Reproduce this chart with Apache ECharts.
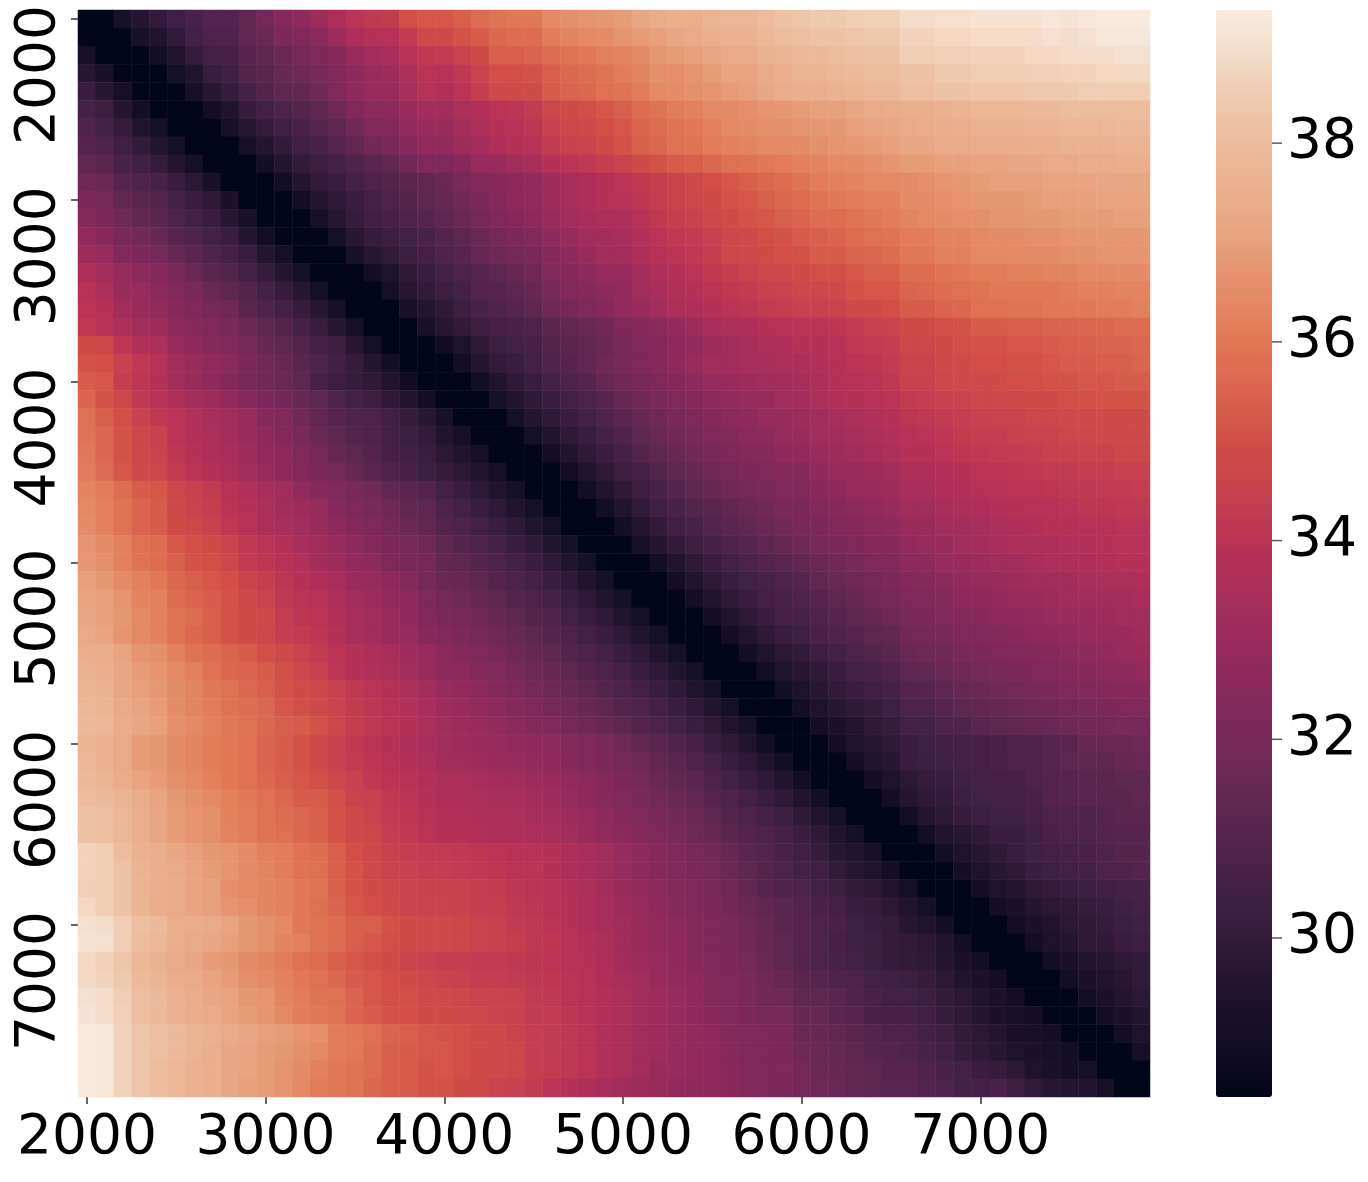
<!DOCTYPE html>
<html>
<head>
<meta charset="utf-8">
<title>Heatmap</title>
<script src="https://cdn.jsdelivr.net/npm/echarts@6/dist/echarts.min.js"></script>
<style>
  html, body { margin: 0; padding: 0; background: #fff; }
  /* the reference is a slightly soft upscaled image */
  #chart { width: 1368px; height: 1182px; filter: blur(0.6px); }
</style>
</head>
<body>
<div id="chart"></div>
<script>
// axis categories, one per cell (only every 10th one is labelled)
const labels = ['2000','2100','2200','2300','2400','2500','2600','2700','2800','2900',
  '3000','3100','3200','3300','3400','3500','3600','3700','3800','3900',
  '4000','4100','4200','4300','4400','4500','4600','4700','4800','4900',
  '5000','5100','5200','5300','5400','5500','5600','5700','5800','5900',
  '6000','6100','6200','6300','6400','6500','6600','6700','6800','6900',
  '7000','7100','7200','7300','7400','7500','7600','7700','7800','7900']
const barTicks = [30, 32, 34, 36, 38]
const barMin = 28.4
const barMax = 39.34
// rocket-like colours as they appear on the colour bar, evenly spaced from barMin to barMax
const barColors = ['#03051a','#211430','#45214a','#6c2858','#922a5c','#b63158','#d04e46','#e27a58','#e8a682','#eec3a5','#f8ece0']

// values, top row first, 20 columns per line
const rows = [
[28.4,28.4,29.2,29.6,30.0,30.4,30.7,31.0,31.0,31.4,31.9,32.4,32.7,33.1,33.6,34.0,34.2,34.3,35.0,35.2,
 35.2,35.4,35.7,35.9,36.0,36.0,36.4,36.6,36.7,36.8,36.9,37.2,37.4,37.5,37.5,37.7,37.8,37.8,38.0,38.2,
 38.3,38.4,38.4,38.5,38.6,38.6,38.9,38.9,39.0,39.0,39.1,39.1,39.1,39.1,39.2,39.1,39.2,39.3,39.3,39.3],
[28.4,28.4,28.4,29.2,29.5,30.0,30.5,30.8,30.9,31.4,31.6,32.1,32.3,32.6,33.1,33.6,33.8,33.9,34.3,34.8,
 34.8,35.1,35.3,35.6,35.7,35.7,36.1,36.3,36.4,36.5,36.7,36.9,37.0,37.2,37.3,37.5,37.6,37.6,37.8,38.0,
 38.1,38.2,38.2,38.3,38.4,38.4,38.7,38.7,38.8,38.8,38.9,38.9,38.9,38.9,39.0,38.9,39.0,39.2,39.2,39.2],
[29.1,28.4,28.4,28.4,29.0,29.5,30.1,30.5,30.6,31.1,31.3,31.6,31.9,32.2,32.5,33.0,33.3,33.4,33.9,34.2,
 34.3,34.6,34.9,35.4,35.4,35.5,35.7,35.9,36.0,36.2,36.3,36.5,36.8,36.9,37.0,37.2,37.3,37.3,37.6,37.7,
 37.9,37.9,38.0,38.1,38.2,38.2,38.5,38.5,38.6,38.6,38.7,38.7,38.7,38.8,38.8,38.9,38.9,38.9,39.0,39.0],
[29.7,29.2,28.4,28.4,28.4,29.1,29.5,30.2,30.4,31.0,31.2,31.5,31.7,32.0,32.3,32.7,33.0,33.1,33.5,34.0,
 33.9,34.2,34.6,35.0,35.0,35.1,35.4,35.6,35.7,35.9,36.1,36.3,36.6,36.6,36.7,36.9,37.1,37.1,37.3,37.5,
 37.7,37.7,37.8,37.9,38.0,38.0,38.2,38.2,38.4,38.4,38.5,38.5,38.5,38.6,38.6,38.7,38.7,38.8,38.8,38.8],
[30.2,29.7,29.1,28.4,28.4,28.4,29.1,29.7,30.1,30.6,31.0,31.3,31.4,31.8,32.2,32.7,32.9,33.0,33.4,33.9,
 33.7,34.0,34.4,34.8,34.9,34.9,35.3,35.5,35.6,35.8,35.9,36.1,36.4,36.5,36.6,36.7,36.9,37.0,37.2,37.4,
 37.5,37.5,37.6,37.7,37.8,37.8,38.1,38.1,38.2,38.2,38.3,38.3,38.3,38.4,38.4,38.4,38.5,38.5,38.5,38.5],
[30.6,30.3,29.6,29.0,28.4,28.4,28.4,29.0,29.5,30.1,30.5,30.8,31.0,31.3,31.7,32.2,32.6,32.6,33.0,33.2,
 33.3,33.5,33.7,34.0,34.1,34.3,34.7,34.9,35.0,35.2,35.4,35.7,35.9,36.1,36.2,36.4,36.5,36.6,36.7,36.8,
 36.9,37.0,37.0,37.2,37.3,37.4,37.5,37.5,37.6,37.7,37.8,37.8,37.8,37.9,37.9,38.0,38.0,38.0,38.0,38.0],
[30.9,30.5,30.1,29.5,29.1,28.4,28.4,28.4,29.1,29.7,30.1,30.4,30.7,31.1,31.3,31.8,32.2,32.3,32.8,33.0,
 33.0,33.3,33.5,33.8,33.9,34.1,34.5,34.7,34.8,35.0,35.2,35.5,35.7,35.9,36.0,36.2,36.4,36.5,36.6,36.6,
 36.7,36.8,36.8,37.0,37.1,37.2,37.3,37.4,37.4,37.5,37.6,37.6,37.6,37.7,37.7,37.8,37.8,37.8,37.9,37.9],
[31.1,30.9,30.4,30.0,29.6,29.1,28.4,28.4,28.4,29.1,29.6,30.0,30.4,30.7,31.1,31.4,31.8,32.0,32.4,32.8,
 32.8,33.1,33.3,33.6,33.8,33.9,34.3,34.5,34.6,34.9,35.1,35.4,35.6,35.8,35.9,36.1,36.2,36.3,36.4,36.5,
 36.5,36.6,36.7,36.8,36.9,37.0,37.2,37.2,37.3,37.3,37.4,37.4,37.4,37.5,37.5,37.6,37.6,37.6,37.7,37.7],
[31.4,31.2,30.7,30.4,30.1,29.6,29.1,28.4,28.4,28.4,29.0,29.6,30.0,30.3,30.6,30.9,31.2,31.4,31.8,32.2,
 32.2,32.5,32.9,33.0,33.2,33.4,33.8,34.0,34.2,34.4,34.6,34.9,35.1,35.3,35.4,35.6,35.8,35.9,36.0,36.1,
 36.2,36.3,36.4,36.5,36.6,36.7,36.9,36.9,37.0,37.0,37.1,37.1,37.2,37.2,37.3,37.3,37.4,37.4,37.5,37.5],
[31.7,31.6,31.1,30.9,30.7,30.2,29.8,29.2,28.4,28.4,28.4,29.0,29.6,30.0,30.2,30.6,30.8,31.0,31.2,31.4,
 31.6,32.0,32.3,32.5,32.6,32.8,33.1,33.4,33.6,33.8,34.0,34.2,34.4,34.6,34.8,35.0,35.2,35.4,35.6,35.7,
 35.9,36.1,36.2,36.3,36.4,36.4,36.5,36.6,36.7,36.8,36.9,37.0,37.0,37.0,37.1,37.1,37.1,37.2,37.2,37.2],
[32.1,31.9,31.4,31.2,31.0,30.5,30.2,29.9,29.3,28.4,28.4,28.4,29.0,29.6,29.9,30.2,30.5,30.8,31.0,31.3,
 31.5,31.8,32.1,32.4,32.6,32.8,33.1,33.4,33.6,33.8,33.9,34.1,34.4,34.6,34.7,34.9,35.1,35.2,35.4,35.6,
 35.7,35.9,36.0,36.1,36.2,36.2,36.5,36.5,36.6,36.7,36.8,36.8,36.8,36.9,37.0,37.0,37.0,37.1,37.1,37.1],
[32.4,32.1,31.7,31.4,31.2,30.8,30.5,30.2,29.7,29.2,28.4,28.4,28.4,29.1,29.7,30.1,30.4,30.6,30.8,31.1,
 31.3,31.6,31.9,32.2,32.4,32.6,33.0,33.2,33.4,33.5,33.6,33.9,34.2,34.4,34.5,34.7,34.9,35.1,35.2,35.4,
 35.5,35.7,35.7,35.9,36.0,36.1,36.3,36.4,36.5,36.6,36.6,36.7,36.7,36.8,36.8,36.9,36.9,36.9,37.0,37.0],
[32.8,32.5,32.0,31.8,31.5,31.1,30.9,30.5,30.2,29.6,29.0,28.4,28.4,28.4,29.1,29.7,30.1,30.3,30.5,30.7,
 31.0,31.3,31.6,31.9,32.1,32.3,32.7,33.0,33.2,33.3,33.4,33.7,34.0,34.2,34.3,34.5,34.7,34.8,35.0,35.1,
 35.3,35.4,35.5,35.7,35.8,35.9,36.1,36.1,36.3,36.3,36.4,36.5,36.5,36.6,36.6,36.7,36.7,36.8,36.8,36.8],
[33.1,32.9,32.3,32.1,31.9,31.5,31.2,30.9,30.6,30.2,29.6,29.1,28.4,28.4,28.4,29.2,29.7,30.0,30.3,30.6,
 30.9,31.1,31.5,31.7,31.9,32.1,32.5,32.7,33.0,33.2,33.3,33.6,33.9,34.0,34.2,34.4,34.7,34.8,34.9,35.0,
 35.1,35.3,35.3,35.5,35.6,35.7,36.0,36.0,36.2,36.2,36.4,36.4,36.4,36.5,36.5,36.6,36.6,36.7,36.7,36.7],
[33.6,33.3,32.9,32.6,32.4,32.0,31.6,31.2,31.0,30.5,30.1,29.6,29.1,28.4,28.4,28.4,29.0,29.4,29.9,30.2,
 30.5,30.8,31.1,31.3,31.5,31.8,32.2,32.5,32.7,32.9,33.0,33.3,33.6,33.8,34.0,34.2,34.4,34.6,34.7,34.8,
 34.9,35.0,35.0,35.2,35.4,35.4,35.7,35.7,35.9,36.0,36.1,36.1,36.2,36.2,36.3,36.3,36.4,36.4,36.5,36.5],
[33.9,33.5,33.0,32.9,32.6,32.3,32.0,31.6,31.3,31.0,30.6,30.1,29.7,29.1,28.4,28.4,28.4,29.1,29.7,30.0,
 30.3,30.6,31.0,31.1,31.3,31.5,32.0,32.3,32.5,32.7,32.8,33.2,33.4,33.7,33.8,34.0,34.2,34.3,34.5,34.6,
 34.7,34.7,34.8,35.1,35.2,35.2,35.5,35.6,35.7,35.8,35.9,36.0,36.0,36.0,36.0,36.1,36.2,36.2,36.3,36.3],
[34.0,33.8,33.2,33.0,32.8,32.5,32.2,31.9,31.7,31.2,30.9,30.5,30.1,29.7,29.1,28.4,28.4,28.4,29.2,29.6,
 29.9,30.3,30.7,30.9,31.1,31.3,31.7,31.9,32.2,32.5,32.8,33.0,33.2,33.5,33.6,33.8,34.0,34.1,34.3,34.4,
 34.5,34.5,34.6,34.8,34.9,35.0,35.3,35.3,35.5,35.6,35.8,35.8,35.9,35.9,36.0,36.0,36.0,36.1,36.1,36.2],
[34.2,33.9,33.5,33.2,33.1,32.7,32.5,32.3,32.0,31.6,31.3,31.0,30.6,30.2,29.7,29.1,28.4,28.4,28.4,29.2,
 29.7,30.0,30.3,30.6,30.7,30.8,31.2,31.4,31.6,31.8,32.2,32.5,32.6,32.8,33.1,33.4,33.5,33.6,33.8,33.9,
 34.0,34.0,34.1,34.3,34.5,34.6,34.9,34.9,35.0,35.1,35.3,35.3,35.4,35.4,35.5,35.5,35.6,35.6,35.7,35.7],
[34.9,34.7,34.1,33.7,33.5,32.9,32.7,32.5,32.3,31.9,31.5,31.3,31.0,30.6,30.3,29.7,29.1,28.4,28.4,28.4,
 28.9,29.4,29.9,30.3,30.5,30.6,31.0,31.2,31.4,31.6,32.0,32.2,32.4,32.6,32.8,33.1,33.3,33.4,33.5,33.6,
 33.8,33.8,33.9,34.2,34.3,34.4,34.7,34.7,34.9,35.0,35.1,35.1,35.2,35.2,35.3,35.4,35.4,35.5,35.5,35.6],
[35.1,35.0,34.5,34.2,33.9,33.2,33.0,32.8,32.6,32.1,31.8,31.5,31.2,30.9,30.4,30.1,29.6,29.0,28.4,28.4,
 28.4,29.0,29.6,30.0,30.2,30.5,30.9,31.1,31.4,31.7,32.0,32.2,32.4,32.7,33.0,33.2,33.3,33.4,33.4,33.5,
 33.6,33.7,33.8,34.0,34.1,34.3,34.6,34.6,34.8,34.9,35.0,35.0,35.1,35.1,35.2,35.3,35.3,35.4,35.4,35.5],
[35.3,35.2,34.4,34.1,33.8,33.3,33.0,32.7,32.4,32.0,31.8,31.6,31.3,30.7,30.3,30.1,29.9,29.5,28.9,28.4,
 28.4,28.4,29.0,29.5,29.9,30.2,30.5,30.8,31.1,31.5,31.8,32.0,32.2,32.4,32.7,32.9,33.0,33.1,33.2,33.3,
 33.4,33.6,33.8,33.9,34.0,34.2,34.5,34.5,34.7,34.8,34.8,34.9,35.0,35.0,35.1,35.1,35.2,35.2,35.3,35.3],
[35.5,35.1,34.7,34.2,33.9,33.6,33.2,33.1,32.8,32.4,32.1,31.8,31.5,31.3,30.9,30.5,30.3,29.9,29.5,29.0,
 28.4,28.4,28.4,29.1,29.5,29.9,30.2,30.5,30.8,31.1,31.5,31.8,32.0,32.2,32.4,32.6,32.8,32.9,33.0,33.2,
 33.3,33.5,33.7,33.8,33.9,34.0,34.3,34.4,34.5,34.6,34.7,34.7,34.8,34.9,34.9,35.0,35.0,35.1,35.1,35.1],
[35.8,35.4,35.0,34.5,34.2,34.0,33.7,33.4,33.2,33.0,32.5,32.3,31.8,31.4,31.1,30.9,30.8,30.4,30.1,29.7,
 29.2,28.4,28.4,28.4,29.1,29.6,29.9,30.2,30.5,30.9,31.2,31.5,31.8,32.0,32.2,32.4,32.6,32.7,32.9,33.0,
 33.1,33.3,33.4,33.5,33.7,33.8,34.1,34.2,34.3,34.4,34.5,34.6,34.6,34.7,34.7,34.8,34.8,34.9,34.9,34.9],
[35.9,35.6,35.1,34.7,34.5,34.0,33.7,33.5,33.3,33.0,32.7,32.4,32.0,31.6,31.3,31.0,30.9,30.5,30.3,30.0,
 29.5,29.1,28.4,28.4,28.4,29.1,29.5,29.9,30.2,30.6,30.9,31.3,31.6,31.8,32.0,32.2,32.4,32.6,32.7,32.9,
 33.0,33.2,33.3,33.4,33.5,33.7,33.9,34.0,34.1,34.3,34.4,34.4,34.5,34.6,34.6,34.7,34.7,34.8,34.8,34.8],
[36.0,35.6,35.1,34.7,34.6,34.1,33.8,33.6,33.4,33.1,32.8,32.6,32.2,31.9,31.5,31.3,31.0,30.6,30.4,30.2,
 29.8,29.5,29.1,28.4,28.4,28.4,29.0,29.5,29.9,30.2,30.6,31.0,31.3,31.5,31.8,32.0,32.2,32.4,32.5,32.7,
 32.8,33.0,33.1,33.2,33.4,33.5,33.8,33.8,34.0,34.1,34.2,34.3,34.3,34.4,34.5,34.5,34.6,34.6,34.7,34.7],
[36.1,35.7,35.2,34.8,34.7,34.3,34.0,33.8,33.5,33.2,32.9,32.6,32.3,32.1,31.9,31.5,31.2,30.9,30.6,30.3,
 30.1,29.8,29.5,29.1,28.4,28.4,28.4,29.0,29.5,29.9,30.3,30.6,31.0,31.3,31.5,31.7,31.9,32.1,32.2,32.4,
 32.5,32.7,32.9,33.0,33.1,33.3,33.5,33.6,33.7,33.8,34.0,34.0,34.1,34.2,34.3,34.3,34.4,34.4,34.5,34.5],
[36.3,36.1,35.7,35.3,35.2,34.7,34.5,34.3,33.9,33.7,33.4,33.2,32.8,32.5,32.3,32.0,31.8,31.4,31.2,31.0,
 30.5,30.2,29.9,29.5,29.1,28.4,28.4,28.4,29.0,29.5,29.9,30.3,30.7,31.0,31.3,31.5,31.7,31.9,32.0,32.2,
 32.3,32.5,32.7,32.9,33.0,33.1,33.4,33.4,33.6,33.7,33.8,33.9,34.0,34.0,34.1,34.2,34.2,34.3,34.3,34.4],
[36.4,36.2,35.9,35.5,35.3,34.8,34.6,34.4,34.0,33.8,33.5,33.3,33.1,32.9,32.5,32.2,32.0,31.7,31.4,31.3,
 30.8,30.5,30.2,29.9,29.5,29.1,28.4,28.4,28.4,29.0,29.5,30.0,30.4,30.7,31.0,31.2,31.4,31.6,31.8,32.0,
 32.1,32.3,32.5,32.6,32.8,32.9,33.2,33.2,33.4,33.5,33.6,33.7,33.8,33.9,33.9,34.0,34.1,34.1,34.2,34.2],
[36.5,36.2,35.9,35.5,35.3,34.9,34.7,34.5,34.2,33.9,33.6,33.4,33.2,33.0,32.7,32.4,32.2,31.9,31.6,31.4,
 31.0,30.8,30.5,30.2,29.9,29.5,29.1,28.4,28.4,28.4,29.0,29.6,30.0,30.4,30.7,31.0,31.2,31.4,31.6,31.8,
 32.0,32.1,32.3,32.4,32.6,32.7,33.0,33.0,33.2,33.3,33.4,33.5,33.6,33.7,33.8,33.8,33.9,33.9,34.0,34.0],
[36.7,36.5,36.2,35.8,35.7,35.2,35.0,34.9,34.6,34.2,34.0,33.8,33.4,33.2,32.9,32.7,32.4,32.1,31.9,31.7,
 31.3,31.0,30.8,30.5,30.2,29.9,29.5,29.1,28.4,28.4,28.4,29.1,29.6,30.0,30.3,30.6,30.9,31.1,31.3,31.5,
 31.7,31.9,32.1,32.2,32.4,32.5,32.8,32.9,33.0,33.2,33.3,33.4,33.5,33.5,33.6,33.7,33.7,33.8,33.9,33.9],
[36.8,36.6,36.2,35.9,35.7,35.4,35.1,35.0,34.7,34.3,34.1,33.9,33.7,33.3,33.1,32.8,32.7,32.2,32.0,31.9,
 31.4,31.3,31.0,30.8,30.5,30.2,29.9,29.5,29.1,28.4,28.4,28.4,29.0,29.5,29.9,30.2,30.5,30.8,31.0,31.2,
 31.4,31.6,31.8,32.0,32.2,32.3,32.7,32.7,32.9,33.0,33.1,33.2,33.3,33.4,33.5,33.6,33.6,33.7,33.8,33.8],
[37.0,36.8,36.5,36.2,36.0,35.6,35.4,35.2,35.0,34.6,34.4,34.1,33.8,33.6,33.4,33.0,32.9,32.6,32.4,31.9,
 31.6,31.5,31.3,31.0,30.8,30.5,30.2,29.9,29.5,29.1,28.4,28.4,28.4,29.0,29.5,29.9,30.2,30.5,30.7,30.9,
 31.1,31.4,31.6,31.7,31.9,32.1,32.4,32.5,32.6,32.8,32.9,33.0,33.1,33.2,33.3,33.3,33.4,33.5,33.5,33.6],
[37.1,37.0,36.7,36.3,36.2,35.7,35.5,35.3,35.1,34.8,34.6,34.2,34.0,33.9,33.6,33.2,33.1,32.8,32.6,32.2,
 31.9,31.7,31.5,31.3,31.0,30.8,30.5,30.2,29.9,29.5,29.1,28.4,28.4,28.4,29.0,29.5,29.9,30.2,30.5,30.7,
 30.9,31.1,31.3,31.5,31.7,31.9,32.2,32.3,32.4,32.6,32.7,32.8,32.9,33.0,33.1,33.2,33.2,33.3,33.3,33.4],
[37.2,37.0,36.8,36.4,36.2,35.9,35.7,35.4,35.1,34.9,34.8,34.4,34.1,34.0,33.7,33.4,33.2,32.9,32.7,32.3,
 32.0,31.9,31.7,31.5,31.3,31.0,30.8,30.5,30.2,29.9,29.5,29.1,28.4,28.4,28.4,29.0,29.5,29.9,30.2,30.5,
 30.7,30.9,31.1,31.3,31.5,31.7,32.0,32.1,32.2,32.4,32.5,32.6,32.7,32.8,32.9,33.0,33.0,33.1,33.2,33.2],
[37.3,37.1,36.7,36.4,36.2,35.9,35.6,35.4,35.1,34.9,34.7,34.4,34.3,34.1,33.8,33.4,33.3,33.0,32.9,32.5,
 32.3,32.1,31.9,31.7,31.5,31.3,31.0,30.8,30.5,30.2,29.9,29.5,29.1,28.4,28.4,28.4,29.0,29.5,29.9,30.2,
 30.4,30.7,30.9,31.1,31.3,31.4,31.8,31.9,32.0,32.2,32.3,32.4,32.5,32.6,32.7,32.8,32.9,32.9,33.0,33.1],
[37.5,37.4,37.1,36.7,36.6,36.2,35.9,35.7,35.5,35.3,35.0,34.8,34.6,34.3,34.0,33.8,33.6,33.4,33.1,32.9,
 32.6,32.4,32.2,31.9,31.7,31.5,31.3,31.0,30.8,30.5,30.2,29.9,29.5,29.1,28.4,28.4,28.4,29.0,29.5,29.8,
 30.0,30.3,30.5,30.8,31.0,31.2,31.6,31.7,31.8,32.0,32.1,32.2,32.3,32.4,32.5,32.6,32.7,32.8,32.9,33.0],
[37.6,37.5,37.2,36.9,36.7,36.4,36.2,35.8,35.6,35.5,35.3,35.0,34.7,34.5,34.1,33.8,33.7,33.5,33.2,33.0,
 32.7,32.6,32.4,32.2,31.9,31.7,31.5,31.3,31.0,30.8,30.5,30.2,29.9,29.5,29.1,28.4,28.4,28.4,29.0,29.4,
 29.7,29.9,30.2,30.5,30.7,30.9,31.3,31.4,31.6,31.7,31.9,32.0,32.1,32.2,32.3,32.4,32.5,32.6,32.7,32.8],
[37.7,37.6,37.2,37.0,36.8,36.5,36.3,36.0,35.8,35.6,35.4,35.1,34.9,34.7,34.5,34.2,34.0,33.8,33.5,33.2,
 32.9,32.8,32.6,32.4,32.2,31.9,31.7,31.5,31.3,31.0,30.8,30.5,30.2,29.9,29.5,29.1,28.4,28.4,28.4,29.0,
 29.4,29.7,30.0,30.2,30.4,30.6,31.0,31.1,31.3,31.5,31.6,31.8,31.9,32.0,32.1,32.2,32.3,32.4,32.5,32.5],
[37.8,37.7,37.3,37.1,36.9,36.5,36.3,36.1,35.9,35.7,35.6,35.2,35.0,34.8,34.6,34.3,34.1,33.9,33.7,33.4,
 33.1,33.0,32.8,32.6,32.4,32.2,31.9,31.7,31.5,31.3,31.0,30.8,30.5,30.2,29.9,29.5,29.1,28.4,28.4,28.4,
 29.0,29.4,29.7,29.9,30.1,30.4,30.8,30.9,31.1,31.3,31.4,31.5,31.6,31.7,31.8,31.9,32.0,32.1,32.2,32.3],
[37.9,37.8,37.4,37.2,37.0,36.6,36.4,36.2,36.0,35.8,35.6,35.4,35.3,35.1,34.7,34.4,34.2,34.0,33.8,33.5,
 33.2,33.1,33.0,32.8,32.6,32.4,32.2,31.9,31.7,31.5,31.3,31.0,30.8,30.5,30.2,29.9,29.5,29.1,28.4,28.4,
 28.4,29.0,29.3,29.6,29.9,30.1,30.5,30.6,30.8,30.9,31.2,31.3,31.4,31.5,31.6,31.7,31.8,31.9,32.0,32.0],
[37.7,37.6,37.3,36.9,36.8,36.5,36.3,36.1,36.0,35.8,35.5,35.3,35.1,34.8,34.5,34.2,34.0,33.8,33.6,33.4,
 33.2,33.1,33.0,32.9,32.8,32.7,32.6,32.4,32.2,32.0,31.7,31.4,31.2,30.9,30.6,30.2,29.9,29.5,29.0,28.4,
 28.4,28.4,29.0,29.4,29.7,29.9,30.2,30.4,30.4,30.5,30.6,30.7,30.9,30.9,31.1,31.2,31.5,31.6,31.6,31.7],
[37.8,37.6,37.3,36.9,36.8,36.5,36.3,36.1,36.0,35.8,35.5,35.3,35.1,34.8,34.5,34.3,34.1,33.9,33.7,33.5,
 33.3,33.2,33.1,33.0,32.9,32.8,32.7,32.5,32.3,32.1,31.9,31.7,31.4,31.2,30.9,30.6,30.2,29.9,29.5,29.0,
 28.4,28.4,28.4,29.0,29.5,29.7,30.2,30.3,30.4,30.5,30.6,30.7,30.8,30.9,31.1,31.3,31.3,31.3,31.5,31.6],
[37.9,37.7,37.4,37.1,36.9,36.6,36.4,36.2,36.0,35.8,35.6,35.4,35.2,35.0,34.7,34.5,34.2,34.0,33.9,33.7,
 33.5,33.5,33.4,33.3,33.2,33.1,33.0,32.8,32.6,32.4,32.1,31.9,31.6,31.4,31.2,30.8,30.5,30.2,29.9,29.5,
 29.0,28.4,28.4,28.4,29.0,29.4,29.8,30.1,30.2,30.4,30.5,30.6,30.6,30.8,31.0,31.1,31.2,31.2,31.3,31.3],
[38.0,37.9,37.7,37.4,37.1,36.8,36.6,36.4,36.2,36.0,35.8,35.6,35.3,35.3,35.0,34.6,34.5,34.2,34.0,33.8,
 33.6,33.6,33.5,33.4,33.4,33.3,33.1,32.9,32.7,32.5,32.3,32.0,31.8,31.6,31.4,31.1,30.8,30.5,30.2,29.9,
 29.5,29.0,28.4,28.4,28.4,29.0,29.6,29.9,30.0,30.3,30.5,30.5,30.5,30.7,31.0,31.1,31.2,31.2,31.2,31.3],
[38.2,38.1,37.8,37.5,37.2,36.9,36.7,36.6,36.2,36.1,35.9,35.7,35.6,35.4,35.1,34.8,34.6,34.3,34.1,33.9,
 33.7,33.7,33.6,33.5,33.5,33.4,33.3,33.1,32.9,32.7,32.5,32.2,32.0,31.8,31.6,31.3,31.0,30.8,30.5,30.3,
 29.9,29.5,29.1,28.4,28.4,28.4,29.0,29.6,29.8,30.1,30.3,30.4,30.4,30.6,30.8,30.9,30.9,31.1,31.2,31.2],
[38.2,38.1,37.8,37.5,37.2,36.9,36.7,36.6,36.3,36.1,35.9,35.8,35.6,35.4,35.1,34.8,34.7,34.4,34.2,34.0,
 33.8,33.8,33.7,33.6,33.6,33.6,33.4,33.2,33.0,32.8,32.6,32.4,32.2,32.0,31.7,31.5,31.2,31.0,30.8,30.6,
 30.2,29.9,29.5,29.1,28.4,28.4,28.4,29.0,29.5,29.7,29.9,30.2,30.2,30.4,30.7,30.8,30.9,31.0,31.1,31.1],
[38.7,38.5,38.0,37.6,37.5,37.2,37.0,36.8,36.7,36.5,36.2,36.1,35.9,35.7,35.4,35.0,34.7,34.5,34.4,34.3,
 34.3,34.2,34.1,34.0,33.9,33.9,33.8,33.6,33.4,33.2,32.9,32.7,32.5,32.2,32.0,31.8,31.5,31.2,31.0,30.7,
 30.4,30.1,29.7,29.5,29.1,28.4,28.4,28.4,29.0,29.4,29.7,29.9,30.2,30.4,30.5,30.6,30.7,30.8,31.0,31.0],
[38.7,38.5,38.2,37.7,37.5,37.3,37.1,36.9,36.7,36.5,36.3,36.1,35.9,35.8,35.4,35.1,34.8,34.6,34.5,34.4,
 34.4,34.3,34.2,34.1,34.0,34.0,33.8,33.6,33.4,33.2,32.9,32.7,32.5,32.3,32.1,31.9,31.6,31.3,31.0,30.8,
 30.6,30.4,30.0,29.7,29.4,29.0,28.4,28.4,28.4,29.0,29.4,29.7,29.9,30.2,30.4,30.5,30.6,30.8,30.9,31.0],
[38.6,38.5,38.2,37.7,37.5,37.3,37.1,37.0,36.6,36.4,36.3,36.2,36.0,35.9,35.4,35.1,34.9,34.7,34.6,34.5,
 34.5,34.5,34.4,34.3,34.1,34.0,33.9,33.7,33.5,33.3,33.0,32.8,32.6,32.4,32.2,32.0,31.7,31.4,31.1,30.9,
 30.8,30.5,30.3,30.0,29.8,29.5,29.1,28.4,28.4,28.4,29.0,29.4,29.6,29.9,30.1,30.2,30.3,30.4,30.5,30.6],
[38.8,38.5,38.2,37.7,37.4,37.3,37.1,37.0,36.7,36.6,36.3,36.2,36.0,35.8,35.5,35.2,35.0,34.8,34.6,34.6,
 34.6,34.5,34.4,34.4,34.2,34.1,33.9,33.8,33.6,33.4,33.1,32.9,32.7,32.5,32.3,32.1,31.8,31.6,31.4,31.2,
 31.0,30.7,30.5,30.2,30.1,29.8,29.5,29.1,28.4,28.4,28.4,29.0,29.3,29.6,29.8,29.9,30.1,30.2,30.4,30.5],
[39.0,38.9,38.5,38.1,37.9,37.5,37.4,37.3,37.1,36.8,36.6,36.4,36.0,35.9,35.7,35.4,35.4,35.1,34.9,34.8,
 34.8,34.7,34.6,34.5,34.3,34.2,34.0,33.8,33.6,33.4,33.2,33.0,32.8,32.6,32.4,32.2,32.0,31.7,31.5,31.2,
 31.1,30.8,30.7,30.4,30.2,30.1,29.7,29.5,29.0,28.4,28.4,28.4,29.0,29.3,29.5,29.8,29.9,30.1,30.3,30.4],
[39.1,39.0,38.5,38.0,37.8,37.5,37.3,37.2,37.0,36.8,36.6,36.3,36.2,35.9,35.7,35.4,35.2,35.0,34.9,34.8,
 34.8,34.7,34.6,34.5,34.4,34.2,34.1,33.9,33.7,33.5,33.2,33.0,32.8,32.6,32.4,32.2,32.0,31.8,31.5,31.3,
 31.1,30.9,30.6,30.4,30.3,30.1,30.0,29.8,29.5,29.0,28.4,28.4,28.4,29.0,29.4,29.6,29.9,29.9,30.2,30.3],
[38.8,38.6,38.3,37.8,37.6,37.3,37.2,36.9,36.8,36.5,36.3,36.1,35.8,35.7,35.4,35.2,35.0,34.9,34.6,34.5,
 34.4,34.4,34.3,34.3,34.2,34.1,34.0,33.9,33.8,33.6,33.3,33.1,32.9,32.7,32.5,32.3,32.1,31.9,31.6,31.3,
 31.0,30.8,30.7,30.5,30.3,30.1,30.0,29.9,29.6,29.3,29.0,28.4,28.4,28.4,29.0,29.3,29.5,29.7,29.9,30.0],
[38.8,38.7,38.4,37.9,37.7,37.4,37.3,37.1,36.9,36.6,36.4,36.2,36.0,35.8,35.6,35.3,35.2,35.0,34.9,34.7,
 34.6,34.5,34.4,34.4,34.3,34.2,34.1,34.0,33.9,33.6,33.4,33.2,33.0,32.8,32.6,32.4,32.2,32.0,31.7,31.5,
 31.2,31.1,30.9,30.8,30.5,30.4,30.3,30.1,29.8,29.5,29.3,29.0,28.4,28.4,28.4,29.0,29.3,29.5,29.7,30.0],
[39.0,38.9,38.5,38.1,37.9,37.6,37.4,37.2,37.1,36.8,36.7,36.3,36.1,35.9,35.8,35.5,35.2,35.0,35.0,34.8,
 34.8,34.7,34.6,34.6,34.5,34.3,34.2,34.0,33.9,33.7,33.5,33.3,33.1,32.9,32.7,32.5,32.3,32.1,31.8,31.7,
 31.4,31.3,31.2,30.9,30.7,30.5,30.5,30.3,30.0,29.8,29.5,29.3,29.0,28.4,28.4,28.4,29.0,29.3,29.6,29.8],
[39.1,38.9,38.6,38.1,37.9,37.6,37.4,37.3,37.1,36.9,36.7,36.4,36.1,36.0,35.8,35.5,35.3,35.1,35.0,34.9,
 34.9,34.8,34.7,34.6,34.5,34.3,34.3,34.1,33.9,33.7,33.5,33.2,33.1,32.9,32.7,32.5,32.3,32.1,31.9,31.9,
 31.5,31.5,31.2,31.1,30.7,30.6,30.6,30.4,30.1,29.9,29.6,29.3,29.1,29.0,28.4,28.4,28.4,29.0,29.3,29.5],
[39.3,39.2,38.7,38.3,38.1,37.9,37.7,37.6,37.3,37.2,37.0,36.9,36.7,36.6,36.1,36.0,35.8,35.5,35.4,35.2,
 35.1,35.0,34.9,34.8,34.6,34.4,34.3,34.2,34.0,33.7,33.5,33.3,33.1,32.9,32.8,32.6,32.4,32.3,32.2,32.1,
 31.6,31.5,31.4,31.2,31.0,30.8,30.8,30.6,30.3,30.0,29.8,29.6,29.3,29.1,29.0,28.4,28.4,28.4,29.0,29.4],
[39.3,39.2,38.7,38.3,38.1,37.9,37.7,37.5,37.2,37.1,36.9,36.8,36.6,36.4,36.1,36.0,35.7,35.4,35.3,35.2,
 35.2,35.0,34.9,34.8,34.7,34.4,34.3,34.2,34.0,33.7,33.5,33.3,33.1,32.9,32.8,32.7,32.5,32.3,32.2,32.1,
 31.7,31.6,31.5,31.3,31.1,31.0,30.9,30.7,30.4,30.1,29.9,29.7,29.4,29.3,29.1,29.0,28.4,28.4,28.4,29.1],
[39.3,39.2,38.7,38.3,38.0,37.8,37.6,37.5,37.2,37.1,36.9,36.7,36.5,36.2,36.0,35.9,35.7,35.4,35.3,35.1,
 35.2,35.0,34.9,34.8,34.7,34.4,34.3,34.2,34.0,33.7,33.5,33.2,33.0,32.9,32.8,32.7,32.5,32.3,32.2,32.2,
 31.9,31.6,31.5,31.4,31.3,31.1,31.1,30.9,30.7,30.5,30.2,30.1,29.8,29.4,29.2,29.0,29.1,28.4,28.4,28.4],
[39.3,39.2,38.7,38.3,38.0,37.8,37.6,37.5,37.2,37.0,36.9,36.7,36.4,36.1,36.0,35.9,35.6,35.4,35.3,35.1,
 35.1,34.9,34.8,34.6,34.5,34.3,34.0,33.8,33.6,33.4,33.2,33.1,32.9,32.8,32.7,32.7,32.5,32.3,32.2,32.1,
 31.9,31.7,31.6,31.4,31.3,31.2,31.2,31.0,30.8,30.6,30.6,30.7,30.3,30.0,29.7,29.6,29.5,29.1,28.4,28.4]
]

const cells = []
rows.forEach((row, y) => row.forEach((v, x) => cells.push([x, y, v])))

const axisFont = { fontFamily: 'DejaVu Sans', fontSize: 55, color: '#000' }
const tickLine = { color: '#333', width: 1.5 }
const hiddenLine = { show: true, lineStyle: { opacity: 0 } }

const chart = echarts.init(document.getElementById('chart'), null, { renderer: 'canvas' })
chart.setOption({
  animation: false,
  grid: [
    { left: 78, top: 10, width: 1072, height: 1087 },
    { left: 1216, top: 10, width: 56, height: 1087 }
  ],
  xAxis: [
    {
      type: 'category',
      gridIndex: 0,
      data: labels,
      axisLine: hiddenLine,
      axisTick: { show: true, alignWithLabel: true, interval: 9, length: 7, lineStyle: tickLine },
      axisLabel: { ...axisFont, interval: 9, margin: 14 }
    },
    { type: 'value', gridIndex: 1, show: false, min: 0, max: 1 }
  ],
  yAxis: [
    {
      type: 'category',
      gridIndex: 0,
      inverse: true,
      data: labels,
      axisLine: hiddenLine,
      axisTick: { show: true, alignWithLabel: true, interval: 9, length: 7, lineStyle: tickLine },
      axisLabel: {
        ...axisFont,
        interval: 9,
        rotate: 90,
        align: 'center',
        verticalAlign: 'middle',
        padding: [0, 112, 0, 0],
        margin: 38
      }
    },
    {
      type: 'value',
      gridIndex: 1,
      position: 'right',
      min: barMin,
      max: barMax,
      splitLine: { show: false },
      axisLine: { show: false },
      axisTick: { show: false },
      axisLabel: { ...axisFont, margin: 15, padding: [12, 0, 0, 0], customValues: barTicks }
    }
  ],
  visualMap: {
    type: 'continuous',
    seriesIndex: 0,
    min: barMin,
    max: barMax,
    left: 1216,
    top: 10,
    padding: 0,
    itemWidth: 56,
    itemHeight: 1087,
    calculable: false,
    hoverLink: false,
    text: null,
    showLabel: false,
    inRange: { color: barColors }
  },
  series: [
    {
      type: 'heatmap',
      xAxisIndex: 0,
      yAxisIndex: 0,
      data: cells,
      progressive: 0,
      emphasis: { disabled: true },
      silent: true
    },
    {
      // colour bar ticks, sitting just right of the bar
      type: 'scatter',
      xAxisIndex: 1,
      yAxisIndex: 1,
      data: barTicks.map(t => [1, t]),
      symbol: 'rect',
      symbolSize: [10, 1.5],
      symbolOffset: [5, 0],
      clip: false,
      silent: true,
      itemStyle: { color: '#333' },
      z: 5
    }
  ]
})
</script>
</body>
</html>
